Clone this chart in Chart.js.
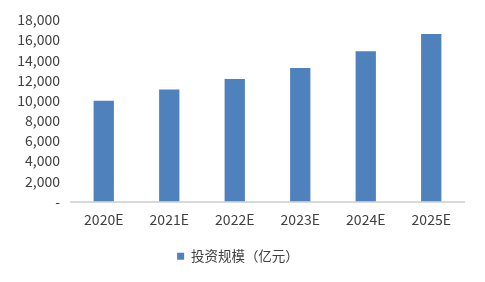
<!DOCTYPE html>
<html>
<head>
<meta charset="utf-8">
<script src="https://cdn.jsdelivr.net/npm/chart.js@4/dist/chart.umd.min.js"></script>
<style>
  html, body { margin: 0; padding: 0; background: #ffffff; }
  #wrap { width: 485px; height: 282px; }
</style>
</head>
<body>
<div id="wrap"><canvas id="c" width="485" height="282"></canvas></div>
<script>
const categories = ["2020E", "2021E", "2022E", "2023E", "2024E", "2025E"];
const seriesName = "投资规模（亿元）";
const investment = [10000, 11100, 12150, 13250, 14900, 16600];
const yTicks = [0, 2000, 4000, 6000, 8000, 10000, 12000, 14000, 16000, 18000];

const FONT = "'Noto Sans CJK SC', 'Noto Sans', sans-serif";
const TEXT = "#404040";

new Chart(document.getElementById("c"), {
  type: "bar",
  data: {
    labels: categories,
    datasets: [{
      label: seriesName,
      data: investment,
      backgroundColor: "#4F81BD",
      borderWidth: 0,
      barPercentage: 0.31,
      categoryPercentage: 1.0
    }]
  },
  options: {
    responsive: false,
    animation: false,
    devicePixelRatio: 1,
    layout: { padding: { top: 20, right: 21, bottom: 9, left: 12 } },
    plugins: {
      tooltip: { enabled: false },
      legend: {
        position: "bottom",
        labels: {
          boxWidth: 7, boxHeight: 7, padding: 10,
          color: TEXT,
          font: { family: FONT, size: 13.5 }
        }
      }
    },
    scales: {
      x: {
        grid: { display: false, drawTicks: false },
        border: { display: true, color: "#d9d9d9", width: 2 },
        ticks: { color: TEXT, font: { family: FONT, size: 14 }, padding: 10, maxRotation: 0 },
        afterFit: (s) => { s.height = 38; }
      },
      y: {
        min: 0, max: 18000,
        afterBuildTicks: (s) => { s.ticks = yTicks.map(v => ({ value: v })); },
        grid: { display: false, drawTicks: false },
        border: { display: false },
        ticks: {
          color: TEXT, font: { family: FONT, size: 14 }, padding: 11,
          callback: (v) => v === 0 ? "-" : v.toLocaleString("en-US")
        },
        afterFit: (s) => { s.width = 59; }
      }
    }
  }
});
</script>
</body>
</html>
